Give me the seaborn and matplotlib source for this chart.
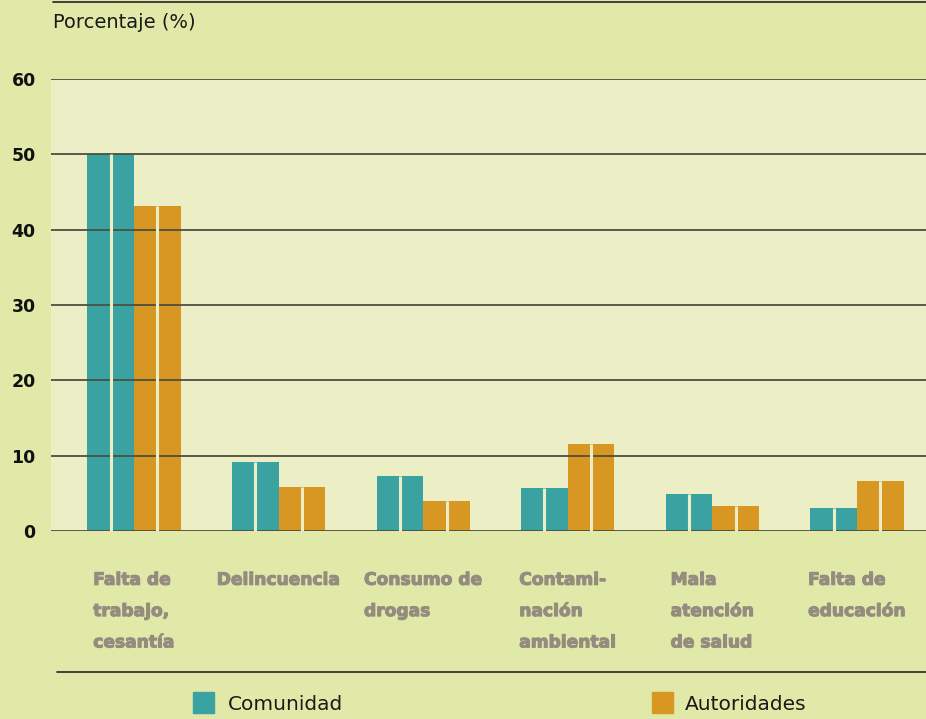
import matplotlib
matplotlib.use("Agg")
import matplotlib.pyplot as plt
import matplotlib.patheffects as pe
import seaborn as sns
import pandas as pd
from matplotlib.patches import Rectangle
from matplotlib.lines import Line2D

categories = ["Falta de\ntrabajo,\ncesantía", "Delincuencia", "Consumo de\ndrogas",
              "Contami-\nnación\nambiental", "Mala\natención\nde salud", "Falta de\neducación"]
series = ["Comunidad", "Autoridades"]
comunidad = [50.0, 9.2, 7.3, 5.7, 4.9, 3.0]
autoridades = [43.2, 5.8, 4.0, 11.6, 3.3, 6.7]
yticks = [0, 10, 20, 30, 40, 50, 60]

colors = ["#3aa3a1", "#d89623"]
outer_bg = "#e1e9a9"
inner_bg = "#ecefc5"
label_gray = "#958c80"

df = pd.DataFrame({
    "cat": categories * 2,
    "serie": [series[0]] * len(categories) + [series[1]] * len(categories),
    "val": comunidad + autoridades,
})

sns.set_theme(style="white")
plt.rcParams["font.family"] = ["DejaVu Sans"]

fig = plt.figure(figsize=(9.26, 7.19), dpi=100, facecolor=outer_bg)
ax = fig.add_axes([51 / 926, 1 - 531 / 719, 1 - 51 / 926, (531 - 79) / 719])
ax.set_facecolor(inner_bg)

sns.barplot(data=df, x="cat", y="val", hue="serie", order=categories, hue_order=series,
            palette=colors, width=0.645, saturation=1, ax=ax, legend=False, linewidth=0)

# split each bar with a thin light line down its middle
for p in ax.patches:
    h = p.get_height()
    if h > 0:
        cx = p.get_x() + p.get_width() / 2
        ax.plot([cx, cx], [0, h], color=inner_bg, lw=2.2, solid_capstyle="butt", zorder=5)

ax.set_xlim(-0.574, 5.477)
ax.set_ylim(0, 60)
ax.set_yticks(yticks)
ax.set_yticklabels([str(t) for t in yticks], fontsize=12.5, fontweight="bold", color="#111111")
ax.tick_params(axis="y", length=0, pad=11)
ax.set_xticks([])
ax.set_xlabel("")
ax.set_ylabel("")
for s in ax.spines.values():
    s.set_visible(False)
for t in yticks:
    ax.axhline(t, color="#4e4e40", lw=1.3, zorder=1)

# category labels: block centred under the group, lines left aligned
for i, c in enumerate(categories):
    ax.text(i, -0.088, c, transform=ax.get_xaxis_transform(), ha="center", va="top",
            multialignment="left",
            fontsize=12.3, fontweight="heavy", color=label_gray, linespacing=1.95,
            path_effects=[pe.withStroke(linewidth=0.8, foreground=label_gray)])

# title
fig.text(53 / 926, 1 - 22 / 719, "Porcentaje (%)", fontsize=14, color="#1a1a1a",
         ha="left", va="center")
fig.add_artist(Line2D([53 / 926, 1.0], [1 - 2 / 719, 1 - 2 / 719], color="#333333", lw=1.3))

# legend
fig.add_artist(Line2D([57 / 926, 1.0], [1 - 672 / 719, 1 - 672 / 719], color="#333333", lw=1.3))
leg_items = [(193, series[0], colors[0], 228), (652, series[1], colors[1], 685)]
for x0, name, col, tx in leg_items:
    fig.add_artist(Rectangle((x0 / 926, 1 - 713 / 719), 21 / 926, 21 / 719, color=col,
                             transform=fig.transFigure))
    fig.text(tx / 926, 1 - 704 / 719, name, fontsize=14.5, color="#1a1a1a",
             ha="left", va="center")

fig.savefig("out.png", dpi=100, facecolor=outer_bg)
